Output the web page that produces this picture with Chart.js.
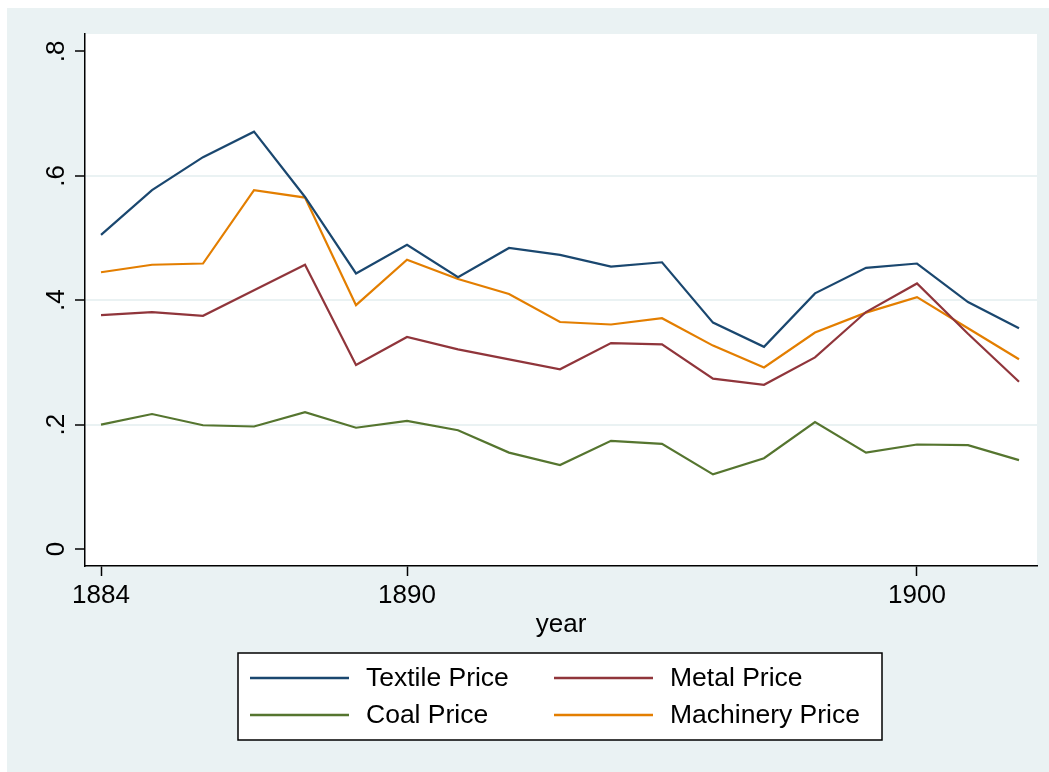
<!DOCTYPE html>
<html>
<head>
<meta charset="utf-8">
<script src="https://cdn.jsdelivr.net/npm/chart.js@4"></script>
<style>
  html, body { margin: 0; padding: 0; background: #ffffff; }
  #wrap { position: absolute; left: 0; top: 0; width: 1049px; height: 772px; }
</style>
</head>
<body>
<div id="wrap"><canvas id="priceChart" width="1049" height="772"></canvas></div>
<script>
// data
const years = [1884, 1885, 1886, 1887, 1888, 1889, 1890, 1891, 1892, 1893,
               1894, 1895, 1896, 1897, 1898, 1899, 1900, 1901, 1902];
const textilePrice = [0.505, 0.577, 0.630, 0.671, 0.566, 0.443, 0.489, 0.437, 0.484, 0.473,
                      0.454, 0.461, 0.364, 0.325, 0.411, 0.452, 0.459, 0.397, 0.355];
const metalPrice = [0.376, 0.381, 0.375, 0.416, 0.457, 0.296, 0.341, 0.321, 0.305, 0.289,
                    0.331, 0.329, 0.274, 0.264, 0.308, 0.381, 0.427, 0.346, 0.269];
const coalPrice = [0.200, 0.217, 0.199, 0.197, 0.220, 0.195, 0.206, 0.191, 0.155, 0.135,
                   0.174, 0.169, 0.120, 0.146, 0.204, 0.155, 0.168, 0.167, 0.143];
const machineryPrice = [0.445, 0.457, 0.459, 0.577, 0.565, 0.392, 0.465, 0.434, 0.410, 0.365,
                        0.361, 0.371, 0.327, 0.292, 0.348, 0.380, 0.405, 0.355, 0.305];
const xTicks = [1884, 1890, 1900];
const yTicks = [0, 0.2, 0.4, 0.6, 0.8];
const yTickLabels = ['0', '.2', '.4', '.6', '.8'];

const FONT = 'Liberation Sans, Arial, Helvetica, sans-serif';
const BG = '#eaf2f3';

Chart.defaults.font.family = FONT;
Chart.defaults.color = '#000';

function series(label, values, color) {
  return {
    label: label,
    data: values.map((v, i) => ({ x: years[i], y: v })),
    borderColor: color,
    backgroundColor: color,
    borderWidth: 2.2,
    pointRadius: 0,
    tension: 0,
    fill: false
  };
}

// grey frame + white plot region
const backdrop = {
  id: 'backdrop',
  beforeDraw(chart) {
    const { ctx, chartArea: a } = chart;
    ctx.save();
    ctx.fillStyle = '#ffffff';
    ctx.fillRect(0, 0, chart.width, chart.height);
    ctx.fillStyle = BG;
    ctx.fillRect(7, 8, chart.width - 7, chart.height - 8);
    ctx.fillStyle = '#ffffff';
    ctx.fillRect(a.left, a.top, a.right - a.left, a.bottom - a.top);
    ctx.restore();
  }
};

// rotated y tick labels, Stata style
const yLabels = {
  id: 'yLabels',
  afterDraw(chart) {
    const { ctx } = chart;
    const y = chart.scales.y;
    ctx.save();
    ctx.font = '26px ' + FONT;
    ctx.fillStyle = '#000';
    ctx.textAlign = 'center';
    ctx.textBaseline = 'alphabetic';
    yTicks.forEach((t, i) => {
      const py = y.getPixelForValue(t);
      ctx.save();
      ctx.translate(63.5, py);
      ctx.rotate(-Math.PI / 2);
      ctx.fillText(yTickLabels[i], 0, 0);
      ctx.restore();
    });
    ctx.restore();
  }
};

// boxed two-column legend
const boxLegend = {
  id: 'boxLegend',
  afterDraw(chart) {
    const { ctx } = chart;
    const sets = chart.data.datasets;
    const cols = [{ line: 250, text: 366 }, { line: 554, text: 670 }];
    const rows = [678, 715];
    ctx.save();
    ctx.fillStyle = '#ffffff';
    ctx.fillRect(238, 653, 644, 87);
    ctx.strokeStyle = '#000';
    ctx.lineWidth = 1.5;
    ctx.strokeRect(238, 653, 644, 87);
    ctx.font = '26.5px ' + FONT;
    ctx.textBaseline = 'middle';
    ctx.textAlign = 'left';
    sets.forEach((s, i) => {
      const c = cols[i % 2];
      const r = rows[Math.floor(i / 2)];
      ctx.strokeStyle = s.borderColor;
      ctx.lineWidth = 2.5;
      ctx.beginPath();
      ctx.moveTo(c.line, r);
      ctx.lineTo(c.line + 99, r);
      ctx.stroke();
      ctx.fillStyle = '#000';
      ctx.fillText(s.label, c.text, r + 1);
    });
    ctx.restore();
  }
};

const ctx = document.getElementById('priceChart').getContext('2d');
new Chart(ctx, {
  type: 'line',
  data: {
    datasets: [
      series('Textile Price', textilePrice, '#1a476f'),
      series('Metal Price', metalPrice, '#90353b'),
      series('Coal Price', coalPrice, '#55752f'),
      series('Machinery Price', machineryPrice, '#e37e00')
    ]
  },
  options: {
    responsive: false,
    animation: false,
    layout: { padding: { top: 34, right: 12, bottom: 132, left: 0 } },
    plugins: {
      legend: { display: false },
      tooltip: { enabled: false }
    },
    scales: {
      x: {
        type: 'linear',
        min: 1883.686,
        max: 1902.353,
        afterBuildTicks: (scale) => { scale.ticks = xTicks.map(v => ({ value: v })); },
        afterFit: (scale) => { scale.height = 74; },
        border: { display: true, color: '#000', width: 1.5 },
        grid: { drawOnChartArea: false, drawTicks: true, tickLength: 10, color: '#000', tickWidth: 1.5 },
        ticks: {
          font: { size: 26 },
          color: '#000',
          padding: 4,
          maxRotation: 0,
          callback: (v) => String(v)
        },
        title: {
          display: true,
          text: 'year',
          font: { size: 26 },
          color: '#000',
          padding: 0
        }
      },
      y: {
        type: 'linear',
        min: -0.0273,
        max: 0.828,
        afterBuildTicks: (scale) => { scale.ticks = yTicks.map(v => ({ value: v })); },
        afterFit: (scale) => { scale.width = 85; },
        border: { display: true, color: '#000', width: 1.5 },
        grid: {
          drawTicks: true,
          tickLength: 10,
          tickColor: '#000',
          tickWidth: 1.5,
          lineWidth: 2,
          color: (c) => (c.tick && c.tick.value > 0.01 && c.tick.value < 0.79) ? BG : 'rgba(0,0,0,0)'
        },
        ticks: { display: false }
      }
    }
  },
  plugins: [backdrop, yLabels, boxLegend]
});
</script>
</body>
</html>
